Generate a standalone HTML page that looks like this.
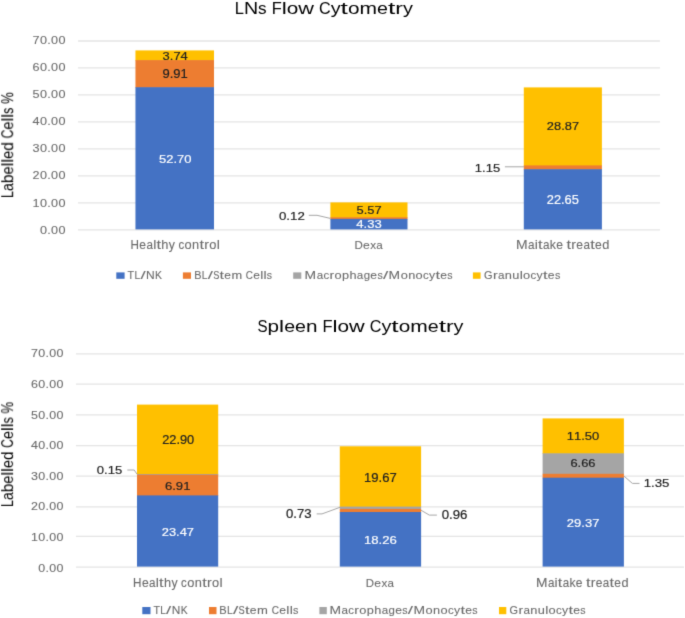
<!DOCTYPE html>
<html><head><meta charset="utf-8"><style>
html,body{margin:0;padding:0;background:#fff;}
svg{display:block;font-family:"Liberation Sans",sans-serif;}
text{will-change:transform;}
</style></head><body>
<svg width="685" height="618" viewBox="0 0 685 618">
<defs><filter id="bl" x="0" y="0" width="100%" height="100%" color-interpolation-filters="sRGB"><feConvolveMatrix order="3" kernelMatrix="0.0144 0.0912 0.0144 0.0912 0.5776 0.0912 0.0144 0.0912 0.0144" divisor="1" edgeMode="duplicate"/></filter></defs>
<g filter="url(#bl)">
<rect width="685" height="618" fill="#fff"/>
<line x1="78.0" y1="229.80" x2="660.0" y2="229.80" stroke="#E4E4E4" stroke-width="1.30"/>
<line x1="78.0" y1="202.90" x2="660.0" y2="202.90" stroke="#E4E4E4" stroke-width="1.30"/>
<line x1="78.0" y1="175.80" x2="660.0" y2="175.80" stroke="#E4E4E4" stroke-width="1.30"/>
<line x1="78.0" y1="148.90" x2="660.0" y2="148.90" stroke="#E4E4E4" stroke-width="1.30"/>
<line x1="78.0" y1="121.80" x2="660.0" y2="121.80" stroke="#E4E4E4" stroke-width="1.30"/>
<line x1="78.0" y1="94.90" x2="660.0" y2="94.90" stroke="#E4E4E4" stroke-width="1.30"/>
<line x1="78.0" y1="67.95" x2="660.0" y2="67.95" stroke="#E4E4E4" stroke-width="1.30"/>
<line x1="78.0" y1="41.00" x2="660.0" y2="41.00" stroke="#E4E4E4" stroke-width="1.30"/>
<rect x="135.45" y="50.40" width="78.55" height="10.30" fill="#FFC000"/>
<rect x="135.45" y="60.10" width="78.55" height="27.70" fill="#ED7D31"/>
<rect x="135.45" y="87.20" width="78.55" height="142.20" fill="#4472C4"/>
<rect x="330.40" y="202.40" width="77.10" height="15.50" fill="#FFC000"/>
<rect x="330.40" y="217.30" width="77.10" height="2.20" fill="#ED7D31"/>
<rect x="330.40" y="218.90" width="77.10" height="10.50" fill="#4472C4"/>
<rect x="523.80" y="87.40" width="78.10" height="78.60" fill="#FFC000"/>
<rect x="523.80" y="165.40" width="78.10" height="4.40" fill="#ED7D31"/>
<rect x="523.80" y="169.20" width="78.10" height="60.20" fill="#4472C4"/>
<line x1="76.0" y1="567.10" x2="684.0" y2="567.10" stroke="#E4E4E4" stroke-width="1.30"/>
<line x1="76.0" y1="536.40" x2="684.0" y2="536.40" stroke="#E4E4E4" stroke-width="1.30"/>
<line x1="76.0" y1="506.80" x2="684.0" y2="506.80" stroke="#E4E4E4" stroke-width="1.30"/>
<line x1="76.0" y1="476.20" x2="684.0" y2="476.20" stroke="#E4E4E4" stroke-width="1.30"/>
<line x1="76.0" y1="445.60" x2="684.0" y2="445.60" stroke="#E4E4E4" stroke-width="1.30"/>
<line x1="76.0" y1="414.90" x2="684.0" y2="414.90" stroke="#E4E4E4" stroke-width="1.30"/>
<line x1="76.0" y1="384.20" x2="684.0" y2="384.20" stroke="#E4E4E4" stroke-width="1.30"/>
<line x1="76.0" y1="353.80" x2="684.0" y2="353.80" stroke="#E4E4E4" stroke-width="1.30"/>
<rect x="137.00" y="404.60" width="81.20" height="70.00" fill="#FFC000"/>
<rect x="137.00" y="474.00" width="81.20" height="1.30" fill="#A5A5A5"/>
<rect x="137.00" y="474.70" width="81.20" height="21.30" fill="#ED7D31"/>
<rect x="137.00" y="495.40" width="81.20" height="71.20" fill="#4472C4"/>
<rect x="339.80" y="446.30" width="81.30" height="60.90" fill="#FFC000"/>
<rect x="339.80" y="506.60" width="81.30" height="2.90" fill="#A5A5A5"/>
<rect x="339.80" y="508.90" width="81.30" height="3.70" fill="#ED7D31"/>
<rect x="339.80" y="512.00" width="81.30" height="54.60" fill="#4472C4"/>
<rect x="542.60" y="418.40" width="81.30" height="35.50" fill="#FFC000"/>
<rect x="542.60" y="453.30" width="81.30" height="21.10" fill="#A5A5A5"/>
<rect x="542.60" y="473.80" width="81.30" height="4.50" fill="#ED7D31"/>
<rect x="542.60" y="477.70" width="81.30" height="88.90" fill="#4472C4"/>
<polyline points="308.8,215.3 317.0,215.3 330.3,218.4" fill="none" stroke="#A6A6A6" stroke-width="1"/>
<polyline points="504.9,166.8 524.2,166.8" fill="none" stroke="#A6A6A6" stroke-width="1"/>
<polyline points="127.3,470.0 134.2,470.0 137.1,474.3" fill="none" stroke="#A6A6A6" stroke-width="1"/>
<polyline points="316.7,513.9 322.0,513.9 340.0,507.3" fill="none" stroke="#A6A6A6" stroke-width="1"/>
<polyline points="421.0,510.2 429.3,515.1 436.9,515.1" fill="none" stroke="#A6A6A6" stroke-width="1"/>
<polyline points="624.1,476.2 632.4,483.4 639.5,483.4" fill="none" stroke="#A6A6A6" stroke-width="1"/>
<g font-size="17.37" fill="#000"><text transform="translate(234.74 13.70) scale(0.9544 1)">L</text><text transform="translate(243.96 13.70) scale(1.1286 1)">N</text><text transform="translate(258.12 13.70) scale(0.9876 1)">s</text><text transform="translate(271.65 13.70) scale(0.9497 1)">F</text><text transform="translate(281.73 13.70) scale(1.3042 1)">l</text><text transform="translate(286.76 13.70) scale(1.1972 1)">o</text><text transform="translate(298.33 13.70) scale(1.2498 1)">w</text><text transform="translate(318.96 13.70) scale(0.9322 1)">C</text><text transform="translate(330.65 13.70) scale(1.1430 1)">y</text><text transform="translate(340.58 13.70) scale(1.5222 1)">t</text><text transform="translate(347.93 13.70) scale(1.1972 1)">o</text><text transform="translate(359.49 13.70) scale(1.2108 1)">m</text><text transform="translate(377.01 13.70) scale(1.1296 1)">e</text><text transform="translate(387.92 13.70) scale(1.5222 1)">t</text><text transform="translate(395.27 13.70) scale(1.3218 1)">r</text><text transform="translate(402.91 13.70) scale(1.1430 1)">y</text></g>
<g font-size="17.00" fill="#000"><text transform="translate(257.51 331.80) scale(0.8882 1)">S</text><text transform="translate(267.59 331.80) scale(1.2181 1)">p</text><text transform="translate(279.10 331.80) scale(1.3319 1)">l</text><text transform="translate(284.13 331.80) scale(1.1536 1)">e</text><text transform="translate(295.04 331.80) scale(1.1536 1)">e</text><text transform="translate(305.95 331.80) scale(1.2181 1)">n</text><text transform="translate(322.42 331.80) scale(0.9699 1)">F</text><text transform="translate(332.49 331.80) scale(1.3319 1)">l</text><text transform="translate(337.52 331.80) scale(1.2226 1)">o</text><text transform="translate(349.08 331.80) scale(1.2763 1)">w</text><text transform="translate(369.70 331.80) scale(0.9520 1)">C</text><text transform="translate(381.39 331.80) scale(1.1673 1)">y</text><text transform="translate(391.31 331.80) scale(1.5545 1)">t</text><text transform="translate(398.66 331.80) scale(1.2226 1)">o</text><text transform="translate(410.22 331.80) scale(1.2365 1)">m</text><text transform="translate(427.73 331.80) scale(1.1536 1)">e</text><text transform="translate(438.63 331.80) scale(1.5545 1)">t</text><text transform="translate(445.97 331.80) scale(1.3499 1)">r</text><text transform="translate(453.62 331.80) scale(1.1673 1)">y</text></g>
<g font-size="16.28" fill="#000"><text transform="translate(13.20 197.92) rotate(-90) scale(0.7614 1)">L</text><text transform="translate(13.20 191.02) rotate(-90) scale(0.8675 1)">a</text><text transform="translate(13.20 183.17) rotate(-90) scale(0.9515 1)">b</text><text transform="translate(13.20 174.55) rotate(-90) scale(0.9011 1)">e</text><text transform="translate(13.20 166.40) rotate(-90) scale(1.0404 1)">l</text><text transform="translate(13.20 162.63) rotate(-90) scale(1.0404 1)">l</text><text transform="translate(13.20 158.87) rotate(-90) scale(0.9011 1)">e</text><text transform="translate(13.20 150.71) rotate(-90) scale(0.9515 1)">d</text><text transform="translate(13.20 138.39) rotate(-90) scale(0.7437 1)">C</text><text transform="translate(13.20 129.65) rotate(-90) scale(0.9011 1)">e</text><text transform="translate(13.20 121.49) rotate(-90) scale(1.0404 1)">l</text><text transform="translate(13.20 117.73) rotate(-90) scale(1.0404 1)">l</text><text transform="translate(13.20 113.96) rotate(-90) scale(0.7879 1)">s</text><text transform="translate(13.20 103.84) rotate(-90) scale(0.8092 1)">%</text></g>
<g font-size="16.28" fill="#000"><text transform="translate(13.10 506.91) rotate(-90) scale(0.7563 1)">L</text><text transform="translate(13.10 500.06) rotate(-90) scale(0.8617 1)">a</text><text transform="translate(13.10 492.26) rotate(-90) scale(0.9451 1)">b</text><text transform="translate(13.10 483.70) rotate(-90) scale(0.8951 1)">e</text><text transform="translate(13.10 475.60) rotate(-90) scale(1.0335 1)">l</text><text transform="translate(13.10 471.86) rotate(-90) scale(1.0335 1)">l</text><text transform="translate(13.10 468.13) rotate(-90) scale(0.8951 1)">e</text><text transform="translate(13.10 460.02) rotate(-90) scale(0.9451 1)">d</text><text transform="translate(13.10 447.78) rotate(-90) scale(0.7387 1)">C</text><text transform="translate(13.10 439.10) rotate(-90) scale(0.8951 1)">e</text><text transform="translate(13.10 431.00) rotate(-90) scale(1.0335 1)">l</text><text transform="translate(13.10 427.26) rotate(-90) scale(1.0335 1)">l</text><text transform="translate(13.10 423.52) rotate(-90) scale(0.7826 1)">s</text><text transform="translate(13.10 413.47) rotate(-90) scale(0.8038 1)">%</text></g>
<g font-size="11.31" fill="#6A6A6A"><text transform="translate(40.03 234.00) scale(1.1171 1)" stroke="#6A6A6A" stroke-width="0.090">0</text><text transform="translate(47.34 234.00) scale(1.1138 1)" stroke="#6A6A6A" stroke-width="0.090">.</text><text transform="translate(51.12 234.00) scale(1.1171 1)" stroke="#6A6A6A" stroke-width="0.090">0</text><text transform="translate(58.51 234.00) scale(1.1171 1)" stroke="#6A6A6A" stroke-width="0.090">0</text></g>
<g font-size="11.31" fill="#6A6A6A"><text transform="translate(32.60 206.95) scale(1.1181 1)" stroke="#6A6A6A" stroke-width="0.089">1</text><text transform="translate(40.01 206.95) scale(1.1181 1)" stroke="#6A6A6A" stroke-width="0.089">0</text><text transform="translate(47.32 206.95) scale(1.1148 1)" stroke="#6A6A6A" stroke-width="0.090">.</text><text transform="translate(51.10 206.95) scale(1.1181 1)" stroke="#6A6A6A" stroke-width="0.089">0</text><text transform="translate(58.51 206.95) scale(1.1181 1)" stroke="#6A6A6A" stroke-width="0.089">0</text></g>
<g font-size="11.31" fill="#6A6A6A"><text transform="translate(32.60 179.05) scale(1.1181 1)" stroke="#6A6A6A" stroke-width="0.089">2</text><text transform="translate(40.01 179.05) scale(1.1181 1)" stroke="#6A6A6A" stroke-width="0.089">0</text><text transform="translate(47.32 179.05) scale(1.1148 1)" stroke="#6A6A6A" stroke-width="0.090">.</text><text transform="translate(51.10 179.05) scale(1.1181 1)" stroke="#6A6A6A" stroke-width="0.089">0</text><text transform="translate(58.51 179.05) scale(1.1181 1)" stroke="#6A6A6A" stroke-width="0.089">0</text></g>
<g font-size="11.31" fill="#6A6A6A"><text transform="translate(32.60 152.05) scale(1.1182 1)" stroke="#6A6A6A" stroke-width="0.089">3</text><text transform="translate(40.01 152.05) scale(1.1182 1)" stroke="#6A6A6A" stroke-width="0.089">0</text><text transform="translate(47.32 152.05) scale(1.1148 1)" stroke="#6A6A6A" stroke-width="0.090">.</text><text transform="translate(51.10 152.05) scale(1.1182 1)" stroke="#6A6A6A" stroke-width="0.089">0</text><text transform="translate(58.51 152.05) scale(1.1182 1)" stroke="#6A6A6A" stroke-width="0.089">0</text></g>
<g font-size="11.31" fill="#6A6A6A"><text transform="translate(32.60 125.05) scale(1.1182 1)" stroke="#6A6A6A" stroke-width="0.089">4</text><text transform="translate(40.01 125.05) scale(1.1182 1)" stroke="#6A6A6A" stroke-width="0.089">0</text><text transform="translate(47.32 125.05) scale(1.1149 1)" stroke="#6A6A6A" stroke-width="0.090">.</text><text transform="translate(51.10 125.05) scale(1.1182 1)" stroke="#6A6A6A" stroke-width="0.089">0</text><text transform="translate(58.51 125.05) scale(1.1182 1)" stroke="#6A6A6A" stroke-width="0.089">0</text></g>
<g font-size="11.31" fill="#6A6A6A"><text transform="translate(32.60 98.00) scale(1.1182 1)" stroke="#6A6A6A" stroke-width="0.089">5</text><text transform="translate(40.01 98.00) scale(1.1182 1)" stroke="#6A6A6A" stroke-width="0.089">0</text><text transform="translate(47.32 98.00) scale(1.1148 1)" stroke="#6A6A6A" stroke-width="0.090">.</text><text transform="translate(51.10 98.00) scale(1.1182 1)" stroke="#6A6A6A" stroke-width="0.089">0</text><text transform="translate(58.51 98.00) scale(1.1182 1)" stroke="#6A6A6A" stroke-width="0.089">0</text></g>
<g font-size="11.31" fill="#6A6A6A"><text transform="translate(32.60 71.35) scale(1.1181 1)" stroke="#6A6A6A" stroke-width="0.089">6</text><text transform="translate(40.01 71.35) scale(1.1181 1)" stroke="#6A6A6A" stroke-width="0.089">0</text><text transform="translate(47.32 71.35) scale(1.1148 1)" stroke="#6A6A6A" stroke-width="0.090">.</text><text transform="translate(51.10 71.35) scale(1.1181 1)" stroke="#6A6A6A" stroke-width="0.089">0</text><text transform="translate(58.51 71.35) scale(1.1181 1)" stroke="#6A6A6A" stroke-width="0.089">0</text></g>
<g font-size="11.31" fill="#6A6A6A"><text transform="translate(32.60 44.25) scale(1.1181 1)" stroke="#6A6A6A" stroke-width="0.089">7</text><text transform="translate(40.01 44.25) scale(1.1181 1)" stroke="#6A6A6A" stroke-width="0.089">0</text><text transform="translate(47.32 44.25) scale(1.1148 1)" stroke="#6A6A6A" stroke-width="0.090">.</text><text transform="translate(51.10 44.25) scale(1.1181 1)" stroke="#6A6A6A" stroke-width="0.089">0</text><text transform="translate(58.51 44.25) scale(1.1181 1)" stroke="#6A6A6A" stroke-width="0.089">0</text></g>
<g font-size="11.60" fill="#6A6A6A"><text transform="translate(38.35 571.60) scale(1.0758 1)" stroke="#6A6A6A" stroke-width="0.093">0</text><text transform="translate(45.56 571.60) scale(1.0726 1)" stroke="#6A6A6A" stroke-width="0.093">.</text><text transform="translate(49.29 571.60) scale(1.0758 1)" stroke="#6A6A6A" stroke-width="0.093">0</text><text transform="translate(56.60 571.60) scale(1.0758 1)" stroke="#6A6A6A" stroke-width="0.093">0</text></g>
<g font-size="11.60" fill="#6A6A6A"><text transform="translate(31.01 540.90) scale(1.0768 1)" stroke="#6A6A6A" stroke-width="0.093">1</text><text transform="translate(38.32 540.90) scale(1.0768 1)" stroke="#6A6A6A" stroke-width="0.093">0</text><text transform="translate(45.54 540.90) scale(1.0736 1)" stroke="#6A6A6A" stroke-width="0.093">.</text><text transform="translate(49.28 540.90) scale(1.0768 1)" stroke="#6A6A6A" stroke-width="0.093">0</text><text transform="translate(56.59 540.90) scale(1.0768 1)" stroke="#6A6A6A" stroke-width="0.093">0</text></g>
<g font-size="11.60" fill="#6A6A6A"><text transform="translate(31.01 510.15) scale(1.0768 1)" stroke="#6A6A6A" stroke-width="0.093">2</text><text transform="translate(38.32 510.15) scale(1.0768 1)" stroke="#6A6A6A" stroke-width="0.093">0</text><text transform="translate(45.54 510.15) scale(1.0736 1)" stroke="#6A6A6A" stroke-width="0.093">.</text><text transform="translate(49.28 510.15) scale(1.0768 1)" stroke="#6A6A6A" stroke-width="0.093">0</text><text transform="translate(56.59 510.15) scale(1.0768 1)" stroke="#6A6A6A" stroke-width="0.093">0</text></g>
<g font-size="11.60" fill="#6A6A6A"><text transform="translate(31.01 479.70) scale(1.0768 1)" stroke="#6A6A6A" stroke-width="0.093">3</text><text transform="translate(38.32 479.70) scale(1.0768 1)" stroke="#6A6A6A" stroke-width="0.093">0</text><text transform="translate(45.54 479.70) scale(1.0736 1)" stroke="#6A6A6A" stroke-width="0.093">.</text><text transform="translate(49.28 479.70) scale(1.0768 1)" stroke="#6A6A6A" stroke-width="0.093">0</text><text transform="translate(56.59 479.70) scale(1.0768 1)" stroke="#6A6A6A" stroke-width="0.093">0</text></g>
<g font-size="11.60" fill="#6A6A6A"><text transform="translate(31.01 448.95) scale(1.0769 1)" stroke="#6A6A6A" stroke-width="0.093">4</text><text transform="translate(38.32 448.95) scale(1.0769 1)" stroke="#6A6A6A" stroke-width="0.093">0</text><text transform="translate(45.54 448.95) scale(1.0736 1)" stroke="#6A6A6A" stroke-width="0.093">.</text><text transform="translate(49.28 448.95) scale(1.0769 1)" stroke="#6A6A6A" stroke-width="0.093">0</text><text transform="translate(56.59 448.95) scale(1.0769 1)" stroke="#6A6A6A" stroke-width="0.093">0</text></g>
<g font-size="11.60" fill="#6A6A6A"><text transform="translate(31.01 418.50) scale(1.0768 1)" stroke="#6A6A6A" stroke-width="0.093">5</text><text transform="translate(38.32 418.50) scale(1.0768 1)" stroke="#6A6A6A" stroke-width="0.093">0</text><text transform="translate(45.54 418.50) scale(1.0736 1)" stroke="#6A6A6A" stroke-width="0.093">.</text><text transform="translate(49.28 418.50) scale(1.0768 1)" stroke="#6A6A6A" stroke-width="0.093">0</text><text transform="translate(56.59 418.50) scale(1.0768 1)" stroke="#6A6A6A" stroke-width="0.093">0</text></g>
<g font-size="11.60" fill="#6A6A6A"><text transform="translate(31.01 388.05) scale(1.0768 1)" stroke="#6A6A6A" stroke-width="0.093">6</text><text transform="translate(38.32 388.05) scale(1.0768 1)" stroke="#6A6A6A" stroke-width="0.093">0</text><text transform="translate(45.54 388.05) scale(1.0736 1)" stroke="#6A6A6A" stroke-width="0.093">.</text><text transform="translate(49.28 388.05) scale(1.0768 1)" stroke="#6A6A6A" stroke-width="0.093">0</text><text transform="translate(56.59 388.05) scale(1.0768 1)" stroke="#6A6A6A" stroke-width="0.093">0</text></g>
<g font-size="11.60" fill="#6A6A6A"><text transform="translate(31.01 357.35) scale(1.0768 1)" stroke="#6A6A6A" stroke-width="0.093">7</text><text transform="translate(38.32 357.35) scale(1.0768 1)" stroke="#6A6A6A" stroke-width="0.093">0</text><text transform="translate(45.54 357.35) scale(1.0736 1)" stroke="#6A6A6A" stroke-width="0.093">.</text><text transform="translate(49.28 357.35) scale(1.0768 1)" stroke="#6A6A6A" stroke-width="0.093">0</text><text transform="translate(56.59 357.35) scale(1.0768 1)" stroke="#6A6A6A" stroke-width="0.093">0</text></g>
<g font-size="12.06" fill="#6A6A6A"><text transform="translate(130.49 248.85) scale(0.9698 1)" stroke="#6A6A6A" stroke-width="0.103">H</text><text transform="translate(139.34 248.85) scale(1.0056 1)" stroke="#6A6A6A" stroke-width="0.099">e</text><text transform="translate(146.43 248.85) scale(0.9681 1)" stroke="#6A6A6A" stroke-width="0.103">a</text><text transform="translate(153.18 248.85) scale(1.1611 1)" stroke="#6A6A6A" stroke-width="0.086">l</text><text transform="translate(156.50 248.85) scale(1.3552 1)" stroke="#6A6A6A" stroke-width="0.074">t</text><text transform="translate(161.35 248.85) scale(1.0619 1)" stroke="#6A6A6A" stroke-width="0.094">h</text><text transform="translate(168.82 248.85) scale(1.0176 1)" stroke="#6A6A6A" stroke-width="0.098">y</text><text transform="translate(178.50 248.85) scale(0.9506 1)" stroke="#6A6A6A" stroke-width="0.105">c</text><text transform="translate(184.57 248.85) scale(1.0658 1)" stroke="#6A6A6A" stroke-width="0.094">o</text><text transform="translate(192.10 248.85) scale(1.0619 1)" stroke="#6A6A6A" stroke-width="0.094">n</text><text transform="translate(199.53 248.85) scale(1.3552 1)" stroke="#6A6A6A" stroke-width="0.074">t</text><text transform="translate(204.31 248.85) scale(1.1768 1)" stroke="#6A6A6A" stroke-width="0.085">r</text><text transform="translate(209.35 248.85) scale(1.0658 1)" stroke="#6A6A6A" stroke-width="0.094">o</text><text transform="translate(216.78 248.85) scale(1.1611 1)" stroke="#6A6A6A" stroke-width="0.086">l</text></g>
<g font-size="11.34" fill="#6A6A6A"><text transform="translate(354.40 248.75) scale(1.0166 1)" stroke="#6A6A6A" stroke-width="0.098">D</text><text transform="translate(363.12 248.75) scale(1.0675 1)" stroke="#6A6A6A" stroke-width="0.094">e</text><text transform="translate(370.19 248.75) scale(1.0336 1)" stroke="#6A6A6A" stroke-width="0.097">x</text><text transform="translate(376.37 248.75) scale(1.0277 1)" stroke="#6A6A6A" stroke-width="0.097">a</text></g>
<g font-size="12.06" fill="#6A6A6A"><text transform="translate(515.91 248.85) scale(1.1553 1)" stroke="#6A6A6A" stroke-width="0.087">M</text><text transform="translate(527.99 248.85) scale(0.9695 1)" stroke="#6A6A6A" stroke-width="0.103">a</text><text transform="translate(534.75 248.85) scale(1.1627 1)" stroke="#6A6A6A" stroke-width="0.086">i</text><text transform="translate(538.07 248.85) scale(1.3570 1)" stroke="#6A6A6A" stroke-width="0.074">t</text><text transform="translate(542.91 248.85) scale(0.9695 1)" stroke="#6A6A6A" stroke-width="0.103">a</text><text transform="translate(549.75 248.85) scale(1.0234 1)" stroke="#6A6A6A" stroke-width="0.098">k</text><text transform="translate(556.26 248.85) scale(1.0070 1)" stroke="#6A6A6A" stroke-width="0.099">e</text><text transform="translate(566.54 248.85) scale(1.3570 1)" stroke="#6A6A6A" stroke-width="0.074">t</text><text transform="translate(571.34 248.85) scale(1.1784 1)" stroke="#6A6A6A" stroke-width="0.085">r</text><text transform="translate(576.37 248.85) scale(1.0070 1)" stroke="#6A6A6A" stroke-width="0.099">e</text><text transform="translate(583.48 248.85) scale(0.9695 1)" stroke="#6A6A6A" stroke-width="0.103">a</text><text transform="translate(590.27 248.85) scale(1.3570 1)" stroke="#6A6A6A" stroke-width="0.074">t</text><text transform="translate(595.12 248.85) scale(1.0070 1)" stroke="#6A6A6A" stroke-width="0.099">e</text><text transform="translate(602.24 248.85) scale(1.0633 1)" stroke="#6A6A6A" stroke-width="0.094">d</text></g>
<g font-size="12.06" fill="#6A6A6A"><text transform="translate(133.09 587.45) scale(0.9698 1)" stroke="#6A6A6A" stroke-width="0.103">H</text><text transform="translate(141.94 587.45) scale(1.0056 1)" stroke="#6A6A6A" stroke-width="0.099">e</text><text transform="translate(149.03 587.45) scale(0.9681 1)" stroke="#6A6A6A" stroke-width="0.103">a</text><text transform="translate(155.78 587.45) scale(1.1611 1)" stroke="#6A6A6A" stroke-width="0.086">l</text><text transform="translate(159.10 587.45) scale(1.3552 1)" stroke="#6A6A6A" stroke-width="0.074">t</text><text transform="translate(163.95 587.45) scale(1.0619 1)" stroke="#6A6A6A" stroke-width="0.094">h</text><text transform="translate(171.42 587.45) scale(1.0176 1)" stroke="#6A6A6A" stroke-width="0.098">y</text><text transform="translate(181.10 587.45) scale(0.9506 1)" stroke="#6A6A6A" stroke-width="0.105">c</text><text transform="translate(187.17 587.45) scale(1.0658 1)" stroke="#6A6A6A" stroke-width="0.094">o</text><text transform="translate(194.70 587.45) scale(1.0619 1)" stroke="#6A6A6A" stroke-width="0.094">n</text><text transform="translate(202.13 587.45) scale(1.3552 1)" stroke="#6A6A6A" stroke-width="0.074">t</text><text transform="translate(206.91 587.45) scale(1.1768 1)" stroke="#6A6A6A" stroke-width="0.085">r</text><text transform="translate(211.95 587.45) scale(1.0658 1)" stroke="#6A6A6A" stroke-width="0.094">o</text><text transform="translate(219.38 587.45) scale(1.1611 1)" stroke="#6A6A6A" stroke-width="0.086">l</text></g>
<g font-size="11.34" fill="#6A6A6A"><text transform="translate(365.71 587.45) scale(1.0092 1)" stroke="#6A6A6A" stroke-width="0.099">D</text><text transform="translate(374.37 587.45) scale(1.0598 1)" stroke="#6A6A6A" stroke-width="0.094">e</text><text transform="translate(381.38 587.45) scale(1.0261 1)" stroke="#6A6A6A" stroke-width="0.097">x</text><text transform="translate(387.52 587.45) scale(1.0203 1)" stroke="#6A6A6A" stroke-width="0.098">a</text></g>
<g font-size="12.06" fill="#6A6A6A"><text transform="translate(535.92 587.45) scale(1.1439 1)" stroke="#6A6A6A" stroke-width="0.087">M</text><text transform="translate(547.89 587.45) scale(0.9599 1)" stroke="#6A6A6A" stroke-width="0.104">a</text><text transform="translate(554.58 587.45) scale(1.1513 1)" stroke="#6A6A6A" stroke-width="0.087">i</text><text transform="translate(557.86 587.45) scale(1.3437 1)" stroke="#6A6A6A" stroke-width="0.074">t</text><text transform="translate(562.65 587.45) scale(0.9599 1)" stroke="#6A6A6A" stroke-width="0.104">a</text><text transform="translate(569.42 587.45) scale(1.0133 1)" stroke="#6A6A6A" stroke-width="0.099">k</text><text transform="translate(575.87 587.45) scale(0.9971 1)" stroke="#6A6A6A" stroke-width="0.100">e</text><text transform="translate(586.06 587.45) scale(1.3437 1)" stroke="#6A6A6A" stroke-width="0.074">t</text><text transform="translate(590.80 587.45) scale(1.1668 1)" stroke="#6A6A6A" stroke-width="0.086">r</text><text transform="translate(595.79 587.45) scale(0.9971 1)" stroke="#6A6A6A" stroke-width="0.100">e</text><text transform="translate(602.83 587.45) scale(0.9599 1)" stroke="#6A6A6A" stroke-width="0.104">a</text><text transform="translate(609.55 587.45) scale(1.3437 1)" stroke="#6A6A6A" stroke-width="0.074">t</text><text transform="translate(614.35 587.45) scale(0.9971 1)" stroke="#6A6A6A" stroke-width="0.100">e</text><text transform="translate(621.40 587.45) scale(1.0529 1)" stroke="#6A6A6A" stroke-width="0.095">d</text></g>
<rect x="116.30" y="272.40" width="8.30" height="6.40" fill="#4472C4"/>
<rect x="182.90" y="272.40" width="8.10" height="6.40" fill="#ED7D31"/>
<rect x="293.20" y="272.40" width="8.10" height="6.40" fill="#A5A5A5"/>
<rect x="472.90" y="272.40" width="7.70" height="6.40" fill="#FFC000"/>
<g font-size="11.63" fill="#6A6A6A"><text transform="translate(127.61 278.75) scale(0.9226 1)" stroke="#6A6A6A" stroke-width="0.108">T</text><text transform="translate(134.48 278.75) scale(0.8742 1)" stroke="#6A6A6A" stroke-width="0.114">L</text><text transform="translate(140.42 278.75) scale(1.6097 1)" stroke="#6A6A6A" stroke-width="0.062">/</text><text transform="translate(145.99 278.75) scale(1.0337 1)" stroke="#6A6A6A" stroke-width="0.097">N</text><text transform="translate(155.08 278.75) scale(0.9008 1)" stroke="#6A6A6A" stroke-width="0.111">K</text></g>
<g font-size="11.63" fill="#6A6A6A"><text transform="translate(194.16 278.75) scale(0.9378 1)" stroke="#6A6A6A" stroke-width="0.107">B</text><text transform="translate(201.77 278.75) scale(0.8693 1)" stroke="#6A6A6A" stroke-width="0.115">L</text><text transform="translate(207.67 278.75) scale(1.6006 1)" stroke="#6A6A6A" stroke-width="0.062">/</text><text transform="translate(213.14 278.75) scale(0.7922 1)" stroke="#6A6A6A" stroke-width="0.126">S</text><text transform="translate(219.57 278.75) scale(1.3864 1)" stroke="#6A6A6A" stroke-width="0.072">t</text><text transform="translate(224.34 278.75) scale(1.0288 1)" stroke="#6A6A6A" stroke-width="0.097">e</text><text transform="translate(231.45 278.75) scale(1.1028 1)" stroke="#6A6A6A" stroke-width="0.091">m</text><text transform="translate(245.78 278.75) scale(0.8491 1)" stroke="#6A6A6A" stroke-width="0.118">C</text><text transform="translate(253.27 278.75) scale(1.0288 1)" stroke="#6A6A6A" stroke-width="0.097">e</text><text transform="translate(260.18 278.75) scale(1.1879 1)" stroke="#6A6A6A" stroke-width="0.084">l</text><text transform="translate(263.41 278.75) scale(1.1879 1)" stroke="#6A6A6A" stroke-width="0.084">l</text><text transform="translate(266.70 278.75) scale(0.8995 1)" stroke="#6A6A6A" stroke-width="0.111">s</text></g>
<g font-size="11.63" fill="#6A6A6A"><text transform="translate(304.61 278.75) scale(1.1921 1)" stroke="#6A6A6A" stroke-width="0.084">M</text><text transform="translate(316.63 278.75) scale(1.0004 1)" stroke="#6A6A6A" stroke-width="0.100">a</text><text transform="translate(323.42 278.75) scale(0.9823 1)" stroke="#6A6A6A" stroke-width="0.102">c</text><text transform="translate(329.41 278.75) scale(1.2160 1)" stroke="#6A6A6A" stroke-width="0.082">r</text><text transform="translate(334.43 278.75) scale(1.1013 1)" stroke="#6A6A6A" stroke-width="0.091">o</text><text transform="translate(341.93 278.75) scale(1.0972 1)" stroke="#6A6A6A" stroke-width="0.091">p</text><text transform="translate(349.39 278.75) scale(1.0972 1)" stroke="#6A6A6A" stroke-width="0.091">h</text><text transform="translate(356.85 278.75) scale(1.0004 1)" stroke="#6A6A6A" stroke-width="0.100">a</text><text transform="translate(363.65 278.75) scale(0.9830 1)" stroke="#6A6A6A" stroke-width="0.102">g</text><text transform="translate(370.36 278.75) scale(1.0391 1)" stroke="#6A6A6A" stroke-width="0.096">e</text><text transform="translate(377.39 278.75) scale(0.9086 1)" stroke="#6A6A6A" stroke-width="0.110">s</text><text transform="translate(382.95 278.75) scale(1.6167 1)" stroke="#6A6A6A" stroke-width="0.062">/</text><text transform="translate(388.61 278.75) scale(1.1921 1)" stroke="#6A6A6A" stroke-width="0.084">M</text><text transform="translate(400.65 278.75) scale(1.1013 1)" stroke="#6A6A6A" stroke-width="0.091">o</text><text transform="translate(408.15 278.75) scale(1.0972 1)" stroke="#6A6A6A" stroke-width="0.091">n</text><text transform="translate(415.62 278.75) scale(1.1013 1)" stroke="#6A6A6A" stroke-width="0.091">o</text><text transform="translate(423.08 278.75) scale(0.9823 1)" stroke="#6A6A6A" stroke-width="0.102">c</text><text transform="translate(429.10 278.75) scale(1.0515 1)" stroke="#6A6A6A" stroke-width="0.095">y</text><text transform="translate(435.49 278.75) scale(1.4003 1)" stroke="#6A6A6A" stroke-width="0.071">t</text><text transform="translate(440.31 278.75) scale(1.0391 1)" stroke="#6A6A6A" stroke-width="0.096">e</text><text transform="translate(447.35 278.75) scale(0.9086 1)" stroke="#6A6A6A" stroke-width="0.110">s</text></g>
<g font-size="11.63" fill="#6A6A6A"><text transform="translate(484.00 278.75) scale(0.9461 1)" stroke="#6A6A6A" stroke-width="0.106">G</text><text transform="translate(492.90 278.75) scale(1.2212 1)" stroke="#6A6A6A" stroke-width="0.082">r</text><text transform="translate(497.93 278.75) scale(1.0047 1)" stroke="#6A6A6A" stroke-width="0.100">a</text><text transform="translate(504.78 278.75) scale(1.1019 1)" stroke="#6A6A6A" stroke-width="0.091">n</text><text transform="translate(512.28 278.75) scale(1.1019 1)" stroke="#6A6A6A" stroke-width="0.091">u</text><text transform="translate(519.68 278.75) scale(1.2049 1)" stroke="#6A6A6A" stroke-width="0.083">l</text><text transform="translate(523.06 278.75) scale(1.1060 1)" stroke="#6A6A6A" stroke-width="0.090">o</text><text transform="translate(530.55 278.75) scale(0.9865 1)" stroke="#6A6A6A" stroke-width="0.101">c</text><text transform="translate(536.60 278.75) scale(1.0560 1)" stroke="#6A6A6A" stroke-width="0.095">y</text><text transform="translate(543.02 278.75) scale(1.4063 1)" stroke="#6A6A6A" stroke-width="0.071">t</text><text transform="translate(547.86 278.75) scale(1.0436 1)" stroke="#6A6A6A" stroke-width="0.096">e</text><text transform="translate(554.93 278.75) scale(0.9124 1)" stroke="#6A6A6A" stroke-width="0.110">s</text></g>
<rect x="142.30" y="607.00" width="8.20" height="7.20" fill="#4472C4"/>
<rect x="209.00" y="607.00" width="7.50" height="7.20" fill="#ED7D31"/>
<rect x="319.40" y="607.00" width="7.40" height="7.20" fill="#A5A5A5"/>
<rect x="499.00" y="607.00" width="7.30" height="7.20" fill="#FFC000"/>
<g font-size="11.77" fill="#6A6A6A"><text transform="translate(153.41 614.25) scale(0.9032 1)" stroke="#6A6A6A" stroke-width="0.111">T</text><text transform="translate(160.23 614.25) scale(0.8558 1)" stroke="#6A6A6A" stroke-width="0.117">L</text><text transform="translate(166.11 614.25) scale(1.5759 1)" stroke="#6A6A6A" stroke-width="0.063">/</text><text transform="translate(171.63 614.25) scale(1.0120 1)" stroke="#6A6A6A" stroke-width="0.099">N</text><text transform="translate(180.64 614.25) scale(0.8819 1)" stroke="#6A6A6A" stroke-width="0.113">K</text></g>
<g font-size="11.77" fill="#6A6A6A"><text transform="translate(219.14 614.25) scale(0.9432 1)" stroke="#6A6A6A" stroke-width="0.106">B</text><text transform="translate(226.89 614.25) scale(0.8743 1)" stroke="#6A6A6A" stroke-width="0.114">L</text><text transform="translate(232.90 614.25) scale(1.6098 1)" stroke="#6A6A6A" stroke-width="0.062">/</text><text transform="translate(238.47 614.25) scale(0.7967 1)" stroke="#6A6A6A" stroke-width="0.126">S</text><text transform="translate(245.01 614.25) scale(1.3944 1)" stroke="#6A6A6A" stroke-width="0.072">t</text><text transform="translate(249.87 614.25) scale(1.0347 1)" stroke="#6A6A6A" stroke-width="0.097">e</text><text transform="translate(257.11 614.25) scale(1.1091 1)" stroke="#6A6A6A" stroke-width="0.090">m</text><text transform="translate(271.71 614.25) scale(0.8539 1)" stroke="#6A6A6A" stroke-width="0.117">C</text><text transform="translate(279.34 614.25) scale(1.0347 1)" stroke="#6A6A6A" stroke-width="0.097">e</text><text transform="translate(286.37 614.25) scale(1.1947 1)" stroke="#6A6A6A" stroke-width="0.084">l</text><text transform="translate(289.66 614.25) scale(1.1947 1)" stroke="#6A6A6A" stroke-width="0.084">l</text><text transform="translate(293.01 614.25) scale(0.9047 1)" stroke="#6A6A6A" stroke-width="0.111">s</text></g>
<g font-size="11.77" fill="#6A6A6A"><text transform="translate(329.41 614.25) scale(1.1790 1)" stroke="#6A6A6A" stroke-width="0.085">M</text><text transform="translate(341.45 614.25) scale(0.9894 1)" stroke="#6A6A6A" stroke-width="0.101">a</text><text transform="translate(348.25 614.25) scale(0.9715 1)" stroke="#6A6A6A" stroke-width="0.103">c</text><text transform="translate(354.24 614.25) scale(1.2026 1)" stroke="#6A6A6A" stroke-width="0.083">r</text><text transform="translate(359.27 614.25) scale(1.0892 1)" stroke="#6A6A6A" stroke-width="0.092">o</text><text transform="translate(366.77 614.25) scale(1.0852 1)" stroke="#6A6A6A" stroke-width="0.092">p</text><text transform="translate(374.25 614.25) scale(1.0852 1)" stroke="#6A6A6A" stroke-width="0.092">h</text><text transform="translate(381.72 614.25) scale(0.9894 1)" stroke="#6A6A6A" stroke-width="0.101">a</text><text transform="translate(388.53 614.25) scale(0.9722 1)" stroke="#6A6A6A" stroke-width="0.103">g</text><text transform="translate(395.24 614.25) scale(1.0277 1)" stroke="#6A6A6A" stroke-width="0.097">e</text><text transform="translate(402.29 614.25) scale(0.8986 1)" stroke="#6A6A6A" stroke-width="0.111">s</text><text transform="translate(407.86 614.25) scale(1.5989 1)" stroke="#6A6A6A" stroke-width="0.063">/</text><text transform="translate(413.53 614.25) scale(1.1790 1)" stroke="#6A6A6A" stroke-width="0.085">M</text><text transform="translate(425.58 614.25) scale(1.0892 1)" stroke="#6A6A6A" stroke-width="0.092">o</text><text transform="translate(433.09 614.25) scale(1.0852 1)" stroke="#6A6A6A" stroke-width="0.092">n</text><text transform="translate(440.57 614.25) scale(1.0892 1)" stroke="#6A6A6A" stroke-width="0.092">o</text><text transform="translate(448.04 614.25) scale(0.9715 1)" stroke="#6A6A6A" stroke-width="0.103">c</text><text transform="translate(454.07 614.25) scale(1.0399 1)" stroke="#6A6A6A" stroke-width="0.096">y</text><text transform="translate(460.47 614.25) scale(1.3849 1)" stroke="#6A6A6A" stroke-width="0.072">t</text><text transform="translate(465.30 614.25) scale(1.0277 1)" stroke="#6A6A6A" stroke-width="0.097">e</text><text transform="translate(472.34 614.25) scale(0.8986 1)" stroke="#6A6A6A" stroke-width="0.111">s</text></g>
<g font-size="11.77" fill="#6A6A6A"><text transform="translate(509.50 614.25) scale(0.9331 1)" stroke="#6A6A6A" stroke-width="0.107">G</text><text transform="translate(518.39 614.25) scale(1.2045 1)" stroke="#6A6A6A" stroke-width="0.083">r</text><text transform="translate(523.41 614.25) scale(0.9909 1)" stroke="#6A6A6A" stroke-width="0.101">a</text><text transform="translate(530.26 614.25) scale(1.0869 1)" stroke="#6A6A6A" stroke-width="0.092">n</text><text transform="translate(537.75 614.25) scale(1.0869 1)" stroke="#6A6A6A" stroke-width="0.092">u</text><text transform="translate(545.13 614.25) scale(1.1885 1)" stroke="#6A6A6A" stroke-width="0.084">l</text><text transform="translate(548.51 614.25) scale(1.0909 1)" stroke="#6A6A6A" stroke-width="0.092">o</text><text transform="translate(555.99 614.25) scale(0.9730 1)" stroke="#6A6A6A" stroke-width="0.103">c</text><text transform="translate(562.03 614.25) scale(1.0415 1)" stroke="#6A6A6A" stroke-width="0.096">y</text><text transform="translate(568.44 614.25) scale(1.3871 1)" stroke="#6A6A6A" stroke-width="0.072">t</text><text transform="translate(573.28 614.25) scale(1.0293 1)" stroke="#6A6A6A" stroke-width="0.097">e</text><text transform="translate(580.34 614.25) scale(0.9000 1)" stroke="#6A6A6A" stroke-width="0.111">s</text></g>
<g font-size="10.60" fill="#202020"><text transform="translate(162.61 60.20) scale(1.2209 1)" stroke="#202020" stroke-width="0.164">3</text><text transform="translate(169.80 60.20) scale(1.2172 1)" stroke="#202020" stroke-width="0.164">.</text><text transform="translate(173.39 60.20) scale(1.2209 1)" stroke="#202020" stroke-width="0.164">7</text><text transform="translate(180.58 60.20) scale(1.2209 1)" stroke="#202020" stroke-width="0.164">4</text></g>
<g font-size="11.89" fill="#202020"><text transform="translate(162.49 78.40) scale(1.0915 1)" stroke="#202020" stroke-width="0.183">9</text><text transform="translate(169.71 78.40) scale(1.0883 1)" stroke="#202020" stroke-width="0.184">.</text><text transform="translate(173.30 78.40) scale(1.0915 1)" stroke="#202020" stroke-width="0.183">9</text><text transform="translate(180.52 78.40) scale(1.0915 1)" stroke="#202020" stroke-width="0.183">1</text></g>
<g font-size="11.03" fill="#FFFFFF"><text transform="translate(158.98 162.60) scale(1.1791 1)" stroke="#FFFFFF" stroke-width="0.170">5</text><text transform="translate(166.21 162.60) scale(1.1791 1)" stroke="#FFFFFF" stroke-width="0.170">2</text><text transform="translate(173.44 162.60) scale(1.1756 1)" stroke="#FFFFFF" stroke-width="0.170">.</text><text transform="translate(177.04 162.60) scale(1.1791 1)" stroke="#FFFFFF" stroke-width="0.170">7</text><text transform="translate(184.28 162.60) scale(1.1791 1)" stroke="#FFFFFF" stroke-width="0.170">0</text></g>
<g font-size="10.76" fill="#202020"><text transform="translate(356.48 213.90) scale(1.1978 1)" stroke="#202020" stroke-width="0.167">5</text><text transform="translate(363.65 213.90) scale(1.1942 1)" stroke="#202020" stroke-width="0.167">.</text><text transform="translate(367.22 213.90) scale(1.1978 1)" stroke="#202020" stroke-width="0.167">5</text><text transform="translate(374.38 213.90) scale(1.1978 1)" stroke="#202020" stroke-width="0.167">7</text></g>
<g font-size="10.88" fill="#FFFFFF"><text transform="translate(356.30 228.20) scale(1.2031 1)" stroke="#FFFFFF" stroke-width="0.166">4</text><text transform="translate(363.58 228.20) scale(1.1995 1)" stroke="#FFFFFF" stroke-width="0.167">.</text><text transform="translate(367.21 228.20) scale(1.2031 1)" stroke="#FFFFFF" stroke-width="0.166">3</text><text transform="translate(374.49 228.20) scale(1.2031 1)" stroke="#FFFFFF" stroke-width="0.166">3</text></g>
<g font-size="11.46" fill="#202020"><text transform="translate(278.98 219.50) scale(1.1568 1)" stroke="#202020" stroke-width="0.173">0</text><text transform="translate(286.35 219.50) scale(1.1533 1)" stroke="#202020" stroke-width="0.173">.</text><text transform="translate(290.02 219.50) scale(1.1568 1)" stroke="#202020" stroke-width="0.173">1</text><text transform="translate(297.40 219.50) scale(1.1568 1)" stroke="#202020" stroke-width="0.173">2</text></g>
<g font-size="11.60" fill="#202020"><text transform="translate(546.85 130.30) scale(1.1094 1)" stroke="#202020" stroke-width="0.180">2</text><text transform="translate(554.01 130.30) scale(1.1094 1)" stroke="#202020" stroke-width="0.180">8</text><text transform="translate(561.17 130.30) scale(1.1061 1)" stroke="#202020" stroke-width="0.181">.</text><text transform="translate(564.73 130.30) scale(1.1094 1)" stroke="#202020" stroke-width="0.180">8</text><text transform="translate(571.89 130.30) scale(1.1094 1)" stroke="#202020" stroke-width="0.180">7</text></g>
<g font-size="11.89" fill="#FFFFFF"><text transform="translate(546.75 203.50) scale(1.0789 1)" stroke="#FFFFFF" stroke-width="0.185">2</text><text transform="translate(553.89 203.50) scale(1.0789 1)" stroke="#FFFFFF" stroke-width="0.185">2</text><text transform="translate(561.02 203.50) scale(1.0757 1)" stroke="#FFFFFF" stroke-width="0.186">.</text><text transform="translate(564.57 203.50) scale(1.0789 1)" stroke="#FFFFFF" stroke-width="0.185">6</text><text transform="translate(571.71 203.50) scale(1.0789 1)" stroke="#FFFFFF" stroke-width="0.185">5</text></g>
<g font-size="11.63" fill="#202020"><text transform="translate(474.81 171.80) scale(1.1201 1)" stroke="#202020" stroke-width="0.179">1</text><text transform="translate(482.05 171.80) scale(1.1168 1)" stroke="#202020" stroke-width="0.179">.</text><text transform="translate(485.66 171.80) scale(1.1201 1)" stroke="#202020" stroke-width="0.179">1</text><text transform="translate(492.90 171.80) scale(1.1201 1)" stroke="#202020" stroke-width="0.179">5</text></g>
<g font-size="12.17" fill="#202020"><text transform="translate(162.16 443.70) scale(1.0523 1)" stroke="#202020" stroke-width="0.190">2</text><text transform="translate(169.28 443.70) scale(1.0523 1)" stroke="#202020" stroke-width="0.190">2</text><text transform="translate(176.40 443.70) scale(1.0491 1)" stroke="#202020" stroke-width="0.191">.</text><text transform="translate(179.95 443.70) scale(1.0523 1)" stroke="#202020" stroke-width="0.190">9</text><text transform="translate(187.08 443.70) scale(1.0523 1)" stroke="#202020" stroke-width="0.190">0</text></g>
<g font-size="11.60" fill="#202020"><text transform="translate(164.93 489.90) scale(1.1302 1)" stroke="#202020" stroke-width="0.177">6</text><text transform="translate(172.23 489.90) scale(1.1268 1)" stroke="#202020" stroke-width="0.177">.</text><text transform="translate(175.86 489.90) scale(1.1302 1)" stroke="#202020" stroke-width="0.177">9</text><text transform="translate(183.15 489.90) scale(1.1302 1)" stroke="#202020" stroke-width="0.177">1</text></g>
<g font-size="11.17" fill="#FFFFFF"><text transform="translate(161.75 535.90) scale(1.1521 1)" stroke="#FFFFFF" stroke-width="0.174">2</text><text transform="translate(168.91 535.90) scale(1.1521 1)" stroke="#FFFFFF" stroke-width="0.174">3</text><text transform="translate(176.07 535.90) scale(1.1486 1)" stroke="#FFFFFF" stroke-width="0.174">.</text><text transform="translate(179.63 535.90) scale(1.1521 1)" stroke="#FFFFFF" stroke-width="0.174">4</text><text transform="translate(186.79 535.90) scale(1.1521 1)" stroke="#FFFFFF" stroke-width="0.174">7</text></g>
<g font-size="10.74" fill="#202020"><text transform="translate(96.79 474.00) scale(1.2184 1)" stroke="#202020" stroke-width="0.164">0</text><text transform="translate(104.07 474.00) scale(1.2148 1)" stroke="#202020" stroke-width="0.165">.</text><text transform="translate(107.69 474.00) scale(1.2184 1)" stroke="#202020" stroke-width="0.164">1</text><text transform="translate(114.97 474.00) scale(1.2184 1)" stroke="#202020" stroke-width="0.164">5</text></g>
<g font-size="11.89" fill="#202020"><text transform="translate(364.01 481.70) scale(1.0980 1)" stroke="#202020" stroke-width="0.182">1</text><text transform="translate(371.26 481.70) scale(1.0980 1)" stroke="#202020" stroke-width="0.182">9</text><text transform="translate(378.52 481.70) scale(1.0947 1)" stroke="#202020" stroke-width="0.183">.</text><text transform="translate(382.14 481.70) scale(1.0980 1)" stroke="#202020" stroke-width="0.182">6</text><text transform="translate(389.40 481.70) scale(1.0980 1)" stroke="#202020" stroke-width="0.182">7</text></g>
<g font-size="11.46" fill="#FFFFFF"><text transform="translate(364.00 544.40) scale(1.1471 1)" stroke="#FFFFFF" stroke-width="0.174">1</text><text transform="translate(371.31 544.40) scale(1.1471 1)" stroke="#FFFFFF" stroke-width="0.174">8</text><text transform="translate(378.62 544.40) scale(1.1437 1)" stroke="#FFFFFF" stroke-width="0.175">.</text><text transform="translate(382.26 544.40) scale(1.1471 1)" stroke="#FFFFFF" stroke-width="0.174">2</text><text transform="translate(389.57 544.40) scale(1.1471 1)" stroke="#FFFFFF" stroke-width="0.174">6</text></g>
<g font-size="11.89" fill="#202020"><text transform="translate(285.99 518.00) scale(1.1066 1)" stroke="#202020" stroke-width="0.181">0</text><text transform="translate(293.30 518.00) scale(1.1033 1)" stroke="#202020" stroke-width="0.181">.</text><text transform="translate(296.95 518.00) scale(1.1066 1)" stroke="#202020" stroke-width="0.181">7</text><text transform="translate(304.26 518.00) scale(1.1066 1)" stroke="#202020" stroke-width="0.181">3</text></g>
<g font-size="11.89" fill="#202020"><text transform="translate(441.68 519.20) scale(1.1157 1)" stroke="#202020" stroke-width="0.179">0</text><text transform="translate(449.06 519.20) scale(1.1124 1)" stroke="#202020" stroke-width="0.180">.</text><text transform="translate(452.73 519.20) scale(1.1157 1)" stroke="#202020" stroke-width="0.179">9</text><text transform="translate(460.11 519.20) scale(1.1157 1)" stroke="#202020" stroke-width="0.179">6</text></g>
<g font-size="11.31" fill="#202020"><text transform="translate(566.71 440.00) scale(1.1482 1)" stroke="#202020" stroke-width="0.174">1</text><text transform="translate(573.94 440.00) scale(1.1482 1)" stroke="#202020" stroke-width="0.174">1</text><text transform="translate(581.16 440.00) scale(1.1447 1)" stroke="#202020" stroke-width="0.175">.</text><text transform="translate(584.76 440.00) scale(1.1482 1)" stroke="#202020" stroke-width="0.174">5</text><text transform="translate(591.98 440.00) scale(1.1482 1)" stroke="#202020" stroke-width="0.174">0</text></g>
<g font-size="11.46" fill="#202020"><text transform="translate(570.45 467.30) scale(1.1224 1)" stroke="#202020" stroke-width="0.178">6</text><text transform="translate(577.60 467.30) scale(1.1191 1)" stroke="#202020" stroke-width="0.179">.</text><text transform="translate(581.16 467.30) scale(1.1224 1)" stroke="#202020" stroke-width="0.178">6</text><text transform="translate(588.31 467.30) scale(1.1224 1)" stroke="#202020" stroke-width="0.178">6</text></g>
<g font-size="11.46" fill="#FFFFFF"><text transform="translate(566.85 527.20) scale(1.1342 1)" stroke="#FFFFFF" stroke-width="0.176">2</text><text transform="translate(574.07 527.20) scale(1.1342 1)" stroke="#FFFFFF" stroke-width="0.176">9</text><text transform="translate(581.30 527.20) scale(1.1308 1)" stroke="#FFFFFF" stroke-width="0.177">.</text><text transform="translate(584.90 527.20) scale(1.1342 1)" stroke="#FFFFFF" stroke-width="0.176">3</text><text transform="translate(592.13 527.20) scale(1.1342 1)" stroke="#FFFFFF" stroke-width="0.176">7</text></g>
<g font-size="11.46" fill="#202020"><text transform="translate(643.69 487.40) scale(1.1559 1)" stroke="#202020" stroke-width="0.173">1</text><text transform="translate(651.06 487.40) scale(1.1525 1)" stroke="#202020" stroke-width="0.174">.</text><text transform="translate(654.73 487.40) scale(1.1559 1)" stroke="#202020" stroke-width="0.173">3</text><text transform="translate(662.09 487.40) scale(1.1559 1)" stroke="#202020" stroke-width="0.173">5</text></g>
</g>
</svg>
</body></html>
